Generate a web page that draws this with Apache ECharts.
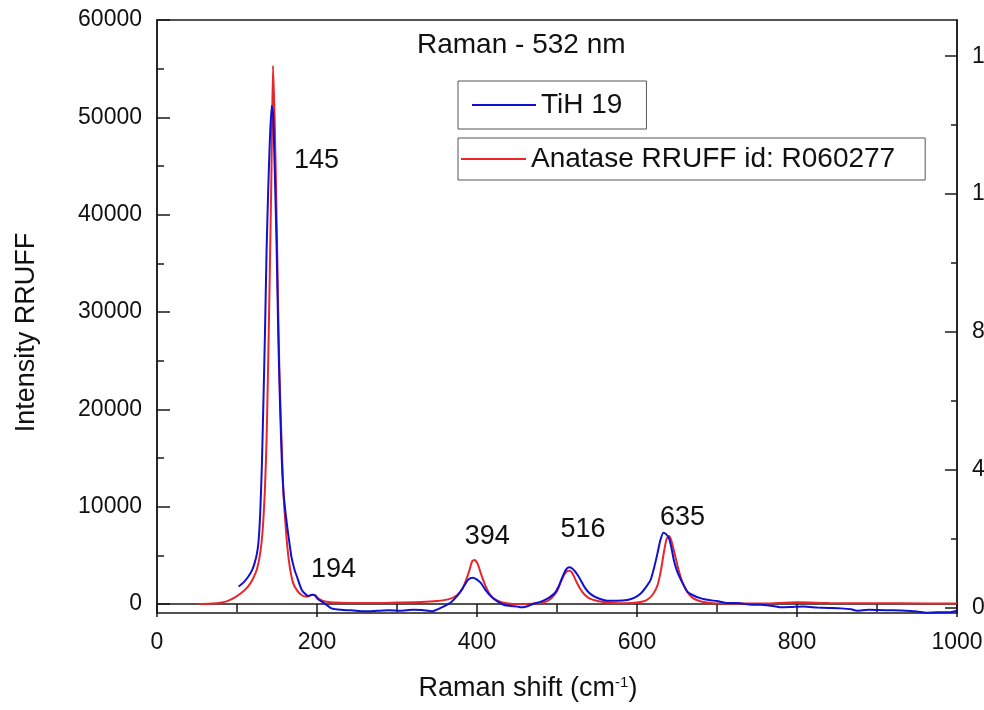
<!DOCTYPE html>
<html>
<head>
<meta charset="utf-8">
<script src="https://cdn.jsdelivr.net/npm/echarts@6/dist/echarts.min.js"></script>
<style>
  html, body { margin: 0; padding: 0; background: #fff; }
  #main { width: 984px; height: 710px; }
</style>
</head>
<body>
<div id="main"></div>
<script>
// Raman shift (cm-1) vs intensity
var anataseCurve = [
    [52, 0], [65, 30], [77, 100], [88, 300], [98, 700], [108, 1300], [114, 1800], [120, 2600],
    [125, 3600], [129, 5200], [132, 7500], [135, 12000], [137, 17000], [139, 25000], [141, 34000],
    [143, 44000], [145, 55300], [147, 50000], [149, 42000], [151, 32500], [153, 24000], [156, 16000],
    [158, 11500], [160, 8900], [163, 5800], [166, 3800], [170, 2200], [175, 1400], [181, 900],
    [188, 750], [194, 950], [198, 850], [203, 500], [210, 250], [220, 150], [240, 100], [270, 100],
    [300, 150], [330, 200], [350, 300], [365, 500], [375, 900], [382, 1600], [387, 2600], [391, 3600],
    [394, 4400], [397, 4520], [401, 4100], [405, 3100], [410, 2000], [416, 1000], [423, 450],
    [432, 150], [445, 0], [460, 0], [475, 50], [485, 200], [493, 600], [500, 1300], [505, 2300],
    [509, 3000], [513, 3400], [516, 3420], [519, 3200], [523, 2500], [528, 1700], [534, 1000],
    [540, 600], [548, 350], [558, 200], [570, 100], [585, 70], [600, 150], [612, 400], [620, 1000],
    [626, 2000], [630, 3500], [634, 5500], [637, 6700], [640, 6990], [643, 6500], [647, 5200],
    [652, 3500], [657, 2200], [663, 1200], [670, 600], [680, 250], [695, 80], [720, 50], [760, 60],
    [800, 180], [840, 100], [900, 80], [960, 60], [1000, 50]
];

var tih19Curve = [
    [102, 1800], [108, 2200], [114, 2800], [119, 3500], [122, 4200], [125, 5200], [127, 6500],
    [129, 9300], [131, 14000], [133, 20700], [135, 28000], [137, 36400], [139, 42500], [141, 47500],
    [143.4, 51200], [145, 50500], [146, 48200], [148, 42000], [149.6, 36400], [151.5, 28000],
    [153.7, 20700], [156, 14800], [158, 11600], [160.5, 9500], [163, 7800], [166, 6000], [168, 4860],
    [172, 3500], [175, 2800], [181, 1440], [189, 820], [194, 950], [197, 920], [201, 500], [206, 240],
    [212, -100], [218, -450], [230, -600], [243, -650], [260, -750], [275, -700], [290, -650],
    [304, -690], [320, -600], [331, -620], [344, -750], [352, -500], [360, -200], [368, 200],
    [376, 900], [382, 1600], [388, 2400], [392, 2650], [395, 2700], [399, 2550], [405, 2150],
    [411, 1400], [418, 750], [426, 250], [434, -100], [442, -200], [451, -270], [455, -340],
    [462, -250], [470, 0], [480, 240], [488, 550], [497, 1100], [502, 1800], [507, 2800], [511, 3500],
    [515, 3770], [519, 3650], [523, 3300], [526, 2950], [530, 2400], [534, 1780], [540, 1150],
    [547, 750], [555, 480], [563, 340], [575, 330], [588, 410], [597, 650], [605, 1100], [611, 1700],
    [617, 2470], [621, 3600], [625.6, 5200], [629, 6500], [633, 7330], [636, 7200], [640, 6750],
    [643, 5800], [646, 4520], [650, 3400], [655, 2470], [663, 1270], [670, 900], [680, 580],
    [690, 400], [700, 300], [713, 100], [725, 100], [740, -50], [755, -80], [770, -200], [781, -340],
    [795, -300], [808, -270], [825, -350], [840, -400], [855, -450], [868, -550], [875, -690],
    [890, -600], [902, -620], [920, -650], [936, -690], [950, -780], [962, -890], [975, -850],
    [990, -860], [1000, -690]
];

// peak labels: [x, y, text]
var peakLabels = [
    [199.5, 45600, '145'],
    [220.7, 3500, '194'],
    [412.7, 6900, '394'],
    [532.4, 7600, '516'],
    [657, 8840, '635']
];

var leftTicks = [0, 10000, 20000, 30000, 40000, 50000, 60000];
var leftMinorTicks = [5000, 15000, 25000, 35000, 45000, 55000];
var rightTicks = [0, 4000, 8000, 12000, 16000];
var rightMinorTicks = [2000, 6000, 10000, 14000];

var blue = '#1010d0';
var red = '#e8262a';
var axisColor = '#1a1a1a';
var fontFamily = '"Liberation Sans", Arial, sans-serif';

function plainNumber(v) {
    return String(v);
}

var myChart = echarts.init(document.getElementById('main'));

var option = {
    animation: false,
    textStyle: { fontFamily: fontFamily, color: '#111' },
    title: {
        text: 'Raman - 532 nm',
        left: 417,
        top: 31,
        padding: 0,
        textStyle: { fontSize: 28, fontWeight: 'normal', color: '#111', fontFamily: fontFamily }
    },
    legend: [{
        data: ['TiH 19'],
        left: 458,
        top: 81,
        orient: 'horizontal',
        padding: [10, 24, 10, 14],
        borderColor: '#555',
        borderWidth: 1,
        itemWidth: 64,
        itemHeight: 2,
        icon: 'rect',
        textStyle: { fontSize: 28, color: '#111', fontFamily: fontFamily }
    }, {
        data: ['Anatase RRUFF id: R060277'],
        left: 458,
        top: 138,
        orient: 'horizontal',
        padding: [7, 30, 7, 3],
        borderColor: '#555',
        borderWidth: 1,
        itemWidth: 65,
        itemHeight: 2,
        icon: 'rect',
        textStyle: { fontSize: 28, color: '#111', fontFamily: fontFamily }
    }],
    grid: {
        left: 157,
        right: 27,
        top: 20,
        bottom: 97,
        outerBoundsMode: 'none',
        containLabel: false,
        show: true,
        borderColor: axisColor,
        borderWidth: 1.5,
        backgroundColor: 'transparent'
    },
    xAxis: {
        type: 'value',
        min: 0,
        max: 1000,
        interval: 200,
        name: 'Raman shift (cm{sup|-1})',
        nameLocation: 'middle',
        nameGap: 62,
        nameTextStyle: {
            fontSize: 27,
            color: '#111',
            padding: [0, 58, 0, 0],
            rich: { sup: { fontSize: 15, verticalAlign: 'top', color: '#111', padding: [0, 0, 12, 0] } }
        },
        axisLine: { lineStyle: { color: axisColor, width: 1.5 } },
        axisTick: { inside: false, length: 13, lineStyle: { color: axisColor, width: 1.5 } },
        minorTick: { show: true, splitNumber: 2, length: 8, lineStyle: { color: axisColor, width: 1.5 } },
        axisLabel: { fontSize: 23, color: '#111', margin: 18, formatter: plainNumber },
        splitLine: { show: false }
    },
    yAxis: [{
        type: 'value',
        position: 'left',
        min: -925,
        max: 60000,
        name: 'Intensity RRUFF',
        nameLocation: 'middle',
        nameGap: 117,
        nameTextStyle: { fontSize: 27, color: '#111', padding: [0, 32, 0, 0] },
        axisLine: { show: true, lineStyle: { color: axisColor, width: 1.5 } },
        axisTick: { show: true, inside: true, length: 13, customValues: leftTicks, lineStyle: { color: axisColor, width: 1.5 } },
        axisLabel: { fontSize: 23, color: '#111', margin: 15, customValues: leftTicks, formatter: plainNumber },
        splitLine: { show: false }
    }, {
        type: 'value',
        position: 'left',
        min: -925,
        max: 60000,
        axisLine: { show: false },
        axisTick: { show: true, inside: true, length: 7, customValues: leftMinorTicks, lineStyle: { color: axisColor, width: 1.5 } },
        axisLabel: { show: false },
        splitLine: { show: false }
    }, {
        type: 'value',
        position: 'right',
        min: -150,
        max: 17050,
        axisLine: { show: true, lineStyle: { color: axisColor, width: 1.5 } },
        axisTick: { show: true, inside: true, length: 12, customValues: rightTicks, lineStyle: { color: axisColor, width: 1.5 } },
        axisLabel: { fontSize: 23, color: '#111', margin: 15, customValues: rightTicks, formatter: plainNumber },
        splitLine: { show: false }
    }, {
        type: 'value',
        position: 'right',
        min: -150,
        max: 17050,
        axisLine: { show: false },
        axisTick: { show: true, inside: true, length: 6, customValues: rightMinorTicks, lineStyle: { color: axisColor, width: 1.5 } },
        axisLabel: { show: false },
        splitLine: { show: false }
    }],
    series: [{
        name: 'Anatase RRUFF id: R060277',
        type: 'line',
        yAxisIndex: 0,
        showSymbol: false,
        symbol: 'none',
        smooth: 0.2,
        color: red,
        lineStyle: { color: red, width: 2 },
        data: anataseCurve
    }, {
        name: 'TiH 19',
        type: 'line',
        yAxisIndex: 0,
        showSymbol: false,
        symbol: 'none',
        smooth: 0.2,
        color: blue,
        lineStyle: { color: blue, width: 2 },
        data: tih19Curve
    }, {
        name: 'peaks',
        type: 'scatter',
        yAxisIndex: 0,
        silent: true,
        symbolSize: 1,
        itemStyle: { color: 'transparent', opacity: 1 },
        label: {
            show: true,
            position: 'inside',
            fontSize: 27,
            color: '#111',
            opacity: 1,
            fontFamily: fontFamily,
            formatter: function (p) { return p.data[2]; }
        },
        data: peakLabels
    }]
};

myChart.setOption(option);
</script>
</body>
</html>
